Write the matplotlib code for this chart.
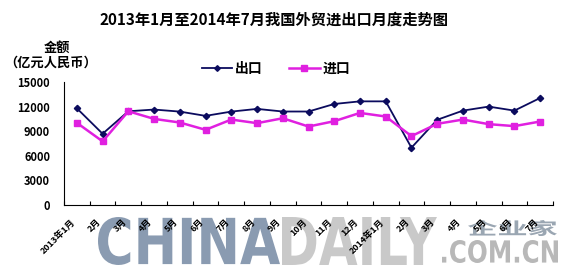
import matplotlib
matplotlib.use("Agg")
import matplotlib.pyplot as plt
from matplotlib.textpath import TextPath
from matplotlib.patches import PathPatch
from matplotlib.font_manager import FontProperties
from matplotlib.transforms import Affine2D

plt.rcParams["font.family"] = ["Noto Sans CJK SC", "DejaVu Sans"]

months = ["2013年1月", "2月", "3月", "4月", "5月", "6月", "7月", "8月", "9月",
          "10月", "11月", "12月", "2014年1月", "2月", "3月", "4月", "5月", "6月", "7月"]
exports = [11790, 8690, 11430, 11640, 11390, 10870, 11390, 11720, 11400,
           11400, 12320, 12640, 12640, 6990, 10390, 11510, 12000, 11510, 13050]
imports = [10020, 7760, 11430, 10500, 10060, 9170, 10420, 9980, 10580,
           9570, 10220, 11230, 10790, 8400, 9900, 10420, 9860, 9620, 10180]
yticks = [0, 3000, 6000, 9000, 12000, 15000]

W, H, DPI = 565, 276, 100
fig = plt.figure(figsize=(W / DPI, H / DPI), dpi=DPI)
ax = fig.add_axes([64 / W, 1 - 205 / H, (553 - 64) / W, (205 - 82) / H])
ax.set_facecolor("none")


def stretched(s, x0, y0, x1, y1, color, family="DejaVu Sans", weight="bold"):
    # watermark text squeezed into a pixel box (y measured from the top)
    tp = TextPath((0, 0), s, size=10, prop=FontProperties(family=family, weight=weight))
    bb = tp.get_extents()
    tr = (Affine2D().translate(-bb.x0, -bb.y0)
          .scale((x1 - x0) / bb.width, (y1 - y0) / bb.height)
          .translate(x0, H - y1))
    p = PathPatch(tp, transform=tr, facecolor=color, edgecolor="none", zorder=-5)
    fig.add_artist(p)


stretched("CHINA", 98, 217, 280, 265, "#8a9bb1")
stretched("DAILY", 282, 217, 437, 265, "#c9c9c9")
stretched(".COM.CN", 442, 240, 558, 263, "#b8b8b8")
stretched("企业家", 468, 220, 557, 236, "#9aa6b2", family="Noto Sans CJK SC")

x = range(len(months))
ax.plot(x, exports, color="#0b0b5e", lw=1.3, marker="D", ms=3.2, label="出口")
ax.plot(x, imports, color="#e020e0", lw=1.8, marker="s", ms=4.2, label="进口")

ax.set_xlim(-0.5, len(months) - 0.5)
ax.set_ylim(0, 15000)
ax.set_yticks(yticks)
ax.set_yticklabels([str(v) for v in yticks], fontsize=8, fontweight="bold")
ax.tick_params(axis="y", length=0, pad=10)

ax.set_xticks([i + 0.5 for i in range(-1, len(months))])
ax.set_xticklabels([])
ax.tick_params(axis="x", direction="in", length=3, width=0.8)
for i, m in enumerate(months):
    ax.text(i - 0.25, -1500, m, rotation=45, ha="right", va="top",
            rotation_mode="anchor", fontsize=6.5, fontweight="bold")

for s in ("top", "right"):
    ax.spines[s].set_visible(False)
ax.spines["left"].set_linewidth(0.8)
ax.spines["bottom"].set_linewidth(0.8)

fig.text(0.485, 1 - 20 / H, "2013年1月至2014年7月我国外贸进出口月度走势图",
         ha="center", va="center", fontsize=11, fontweight="bold")
fig.text(57 / W, 1 - 48 / H, "金额", ha="center", va="center",
         fontsize=9.5, fontweight="bold")
fig.text(51 / W, 1 - 63 / H, "（亿元人民币）", ha="center", va="center",
         fontsize=9.5, fontweight="bold")

ax.legend(loc="center", bbox_to_anchor=(276 / W, 1 - 69 / H),
          bbox_transform=fig.transFigure, ncol=2, frameon=False,
          prop={"weight": "bold", "size": 10}, handlelength=2.2,
          handletextpad=0.2, columnspacing=1.9, markerscale=0.9)

fig.savefig("out.png", dpi=DPI)
